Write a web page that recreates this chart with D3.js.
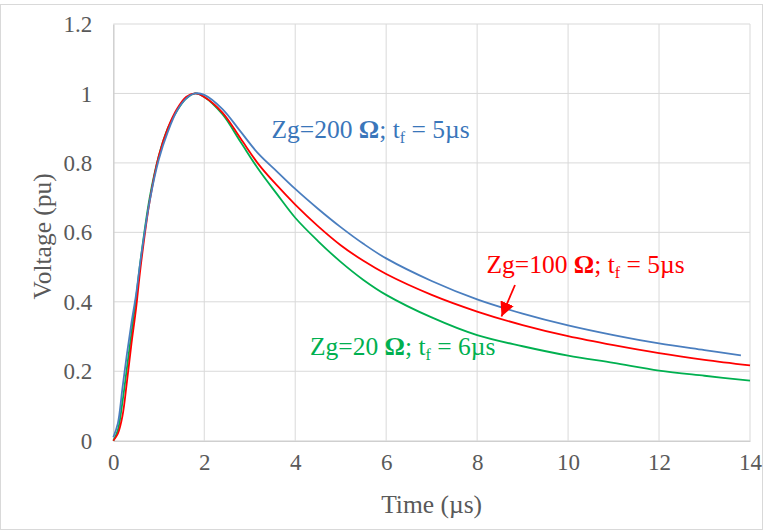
<!DOCTYPE html>
<html>
<head>
<meta charset="utf-8">
<script src="https://cdn.jsdelivr.net/npm/d3@7"></script>
<style>
  html, body { margin: 0; padding: 0; background: #fff; }
  svg { display: block; }
  text { font-family: "Times New Roman", "Liberation Serif", serif; }
</style>
</head>
<body>
<script>
// Sample times (µs)
const timeUs = [0, 0.1, 0.2, 0.3, 0.4, 0.5, 0.6, 0.8, 1.0, 1.2, 1.4, 1.6, 1.8, 2.0, 2.4, 2.8, 3.2, 3.6, 4.0, 4.5, 5, 5.5, 6, 7, 8, 9, 10, 11, 12, 13, 14];
const timeUs200 = [0, 0.1, 0.2, 0.3, 0.4, 0.5, 0.6, 0.8, 1.0, 1.2, 1.4, 1.6, 1.8, 2.0, 2.4, 2.8, 3.2, 3.6, 4.0, 4.5, 5, 5.5, 6, 7, 8, 9, 10, 11, 12, 13, 13.8];

// Normalised voltage (pu) for each grounding impedance
const v200 = [0.01, 0.05, 0.15, 0.25, 0.34, 0.42, 0.52, 0.69, 0.81, 0.89, 0.95, 0.985, 1.0, 0.996, 0.955, 0.89, 0.825, 0.775, 0.725, 0.668, 0.615, 0.567, 0.525, 0.46, 0.407, 0.366, 0.332, 0.304, 0.28, 0.261, 0.246];
const v100 = [0.0, 0.02, 0.07, 0.17, 0.28, 0.38, 0.5, 0.69, 0.82, 0.9, 0.955, 0.99, 1.0, 0.99, 0.945, 0.87, 0.795, 0.735, 0.68, 0.618, 0.563, 0.518, 0.48, 0.42, 0.372, 0.333, 0.301, 0.275, 0.252, 0.233, 0.217];
const v20 = [0.0, 0.03, 0.11, 0.21, 0.31, 0.41, 0.52, 0.7, 0.82, 0.9, 0.95, 0.985, 1.0, 0.99, 0.94, 0.86, 0.78, 0.71, 0.642, 0.575, 0.515, 0.463, 0.42, 0.355, 0.304, 0.272, 0.245, 0.224, 0.202, 0.187, 0.173];

const xTicks = [0, 2, 4, 6, 8, 10, 12, 14];
const yTicks = [0, 0.2, 0.4, 0.6, 0.8, 1.0, 1.2];

const W = 765, H = 531;
const svg = d3.select("body").append("svg").attr("width", W).attr("height", H);

// chart frame
svg.append("rect")
  .attr("x", 0.5).attr("y", 4.5).attr("width", 762).attr("height", 525)
  .attr("fill", "#fff").attr("stroke", "#d9d9d9").attr("stroke-width", 1);

const x = d3.scaleLinear().domain([0, 14]).range([113.3, 750]);
const y = d3.scaleLinear().domain([0, 1.2]).range([440.7, 24]);

// gridlines
svg.append("g").selectAll("line.v").data(xTicks.slice(1)).join("line")
  .attr("x1", d => x(d)).attr("x2", d => x(d))
  .attr("y1", y(0)).attr("y2", y(1.2))
  .attr("stroke", "#d9d9d9").attr("stroke-width", 1);
svg.append("g").selectAll("line.h").data(yTicks.slice(1)).join("line")
  .attr("x1", x(0)).attr("x2", x(14))
  .attr("y1", d => y(d)).attr("y2", d => y(d))
  .attr("stroke", "#d9d9d9").attr("stroke-width", 1);

// axes
const xAxis = svg.append("g").attr("transform", `translate(0,${y(0)})`)
  .call(d3.axisBottom(x).tickValues(xTicks).tickSize(0).tickPadding(22).tickFormat(d3.format("d")));
const yAxis = svg.append("g").attr("transform", `translate(${x(0)},0)`)
  .call(d3.axisLeft(y).tickValues(yTicks).tickSize(0).tickPadding(21).tickFormat(d => d === 0 ? "0" : d3.format("~g")(d)));
[xAxis, yAxis].forEach(g => {
  g.select(".domain").attr("stroke", "#cfcfcf").attr("stroke-width", 1.5);
  g.selectAll("text")
    .attr("fill", "#595959")
    .style("font-family", "'Times New Roman', 'Liberation Serif', serif")
    .style("font-size", "23px");
});
xAxis.selectAll("text").attr("dy", "0.3em");
yAxis.selectAll("text").attr("dy", "0.33em");

// axis titles
svg.append("text")
  .attr("x", (x(0) + x(14)) / 2).attr("y", 513)
  .attr("text-anchor", "middle").attr("fill", "#595959")
  .style("font-size", "25.5px").text("Time (µs)");
svg.append("text")
  .attr("transform", `translate(51,${(y(0) + y(1.2)) / 2 + 4}) rotate(-90)`)
  .attr("text-anchor", "middle").attr("fill", "#595959")
  .style("font-size", "25.5px").text("Voltage (pu)");

// curves
const series = [
  { t: timeUs, v: v20, color: "#00b050" },
  { t: timeUs, v: v100, color: "#ff0000" },
  { t: timeUs200, v: v200, color: "#4a7ebf" }
];
const line = d3.line().x(d => x(d[0])).y(d => y(d[1])).curve(d3.curveCatmullRom.alpha(0.5));
series.forEach(s => {
  svg.append("path")
    .datum(s.t.map((t, i) => [t, s.v[i]]))
    .attr("d", line)
    .attr("fill", "none")
    .attr("stroke", s.color)
    .attr("stroke-width", 1.8);
});

// annotations
function label(px, py, color, zg, tf) {
  const t = svg.append("text").attr("x", px).attr("y", py)
    .attr("fill", color).style("font-size", "25.5px");
  t.append("tspan").text(`Zg=${zg} `);
  t.append("tspan").text("Ω").style("font-weight", "bold");
  t.append("tspan").text("; t");
  t.append("tspan").text("f").attr("dy", 5).style("font-size", "16px");
  t.append("tspan").text(` = ${tf}µs`).attr("dy", -5);
}
label(271.5, 138, "#3a76ba", 200, 5);
label(486.5, 273, "#ff0000", 100, 5);
label(310, 355, "#00b050", 20, 6);

// arrow pointing at the 100 Ω curve
svg.append("defs").append("marker")
  .attr("id", "arrowhead")
  .attr("viewBox", "0 0 10 10").attr("refX", 10).attr("refY", 5)
  .attr("markerWidth", 8).attr("markerHeight", 8)
  .attr("markerUnits", "strokeWidth")
  .attr("orient", "auto")
  .append("path").attr("d", "M0,0 L10,5 L0,10 Z").attr("fill", "#ff0000");
svg.append("line")
  .attr("x1", 515).attr("y1", 285)
  .attr("x2", 501.5).attr("y2", 316.5)
  .attr("stroke", "#ff0000").attr("stroke-width", 1.8)
  .attr("marker-end", "url(#arrowhead)");
</script>
</body>
</html>
